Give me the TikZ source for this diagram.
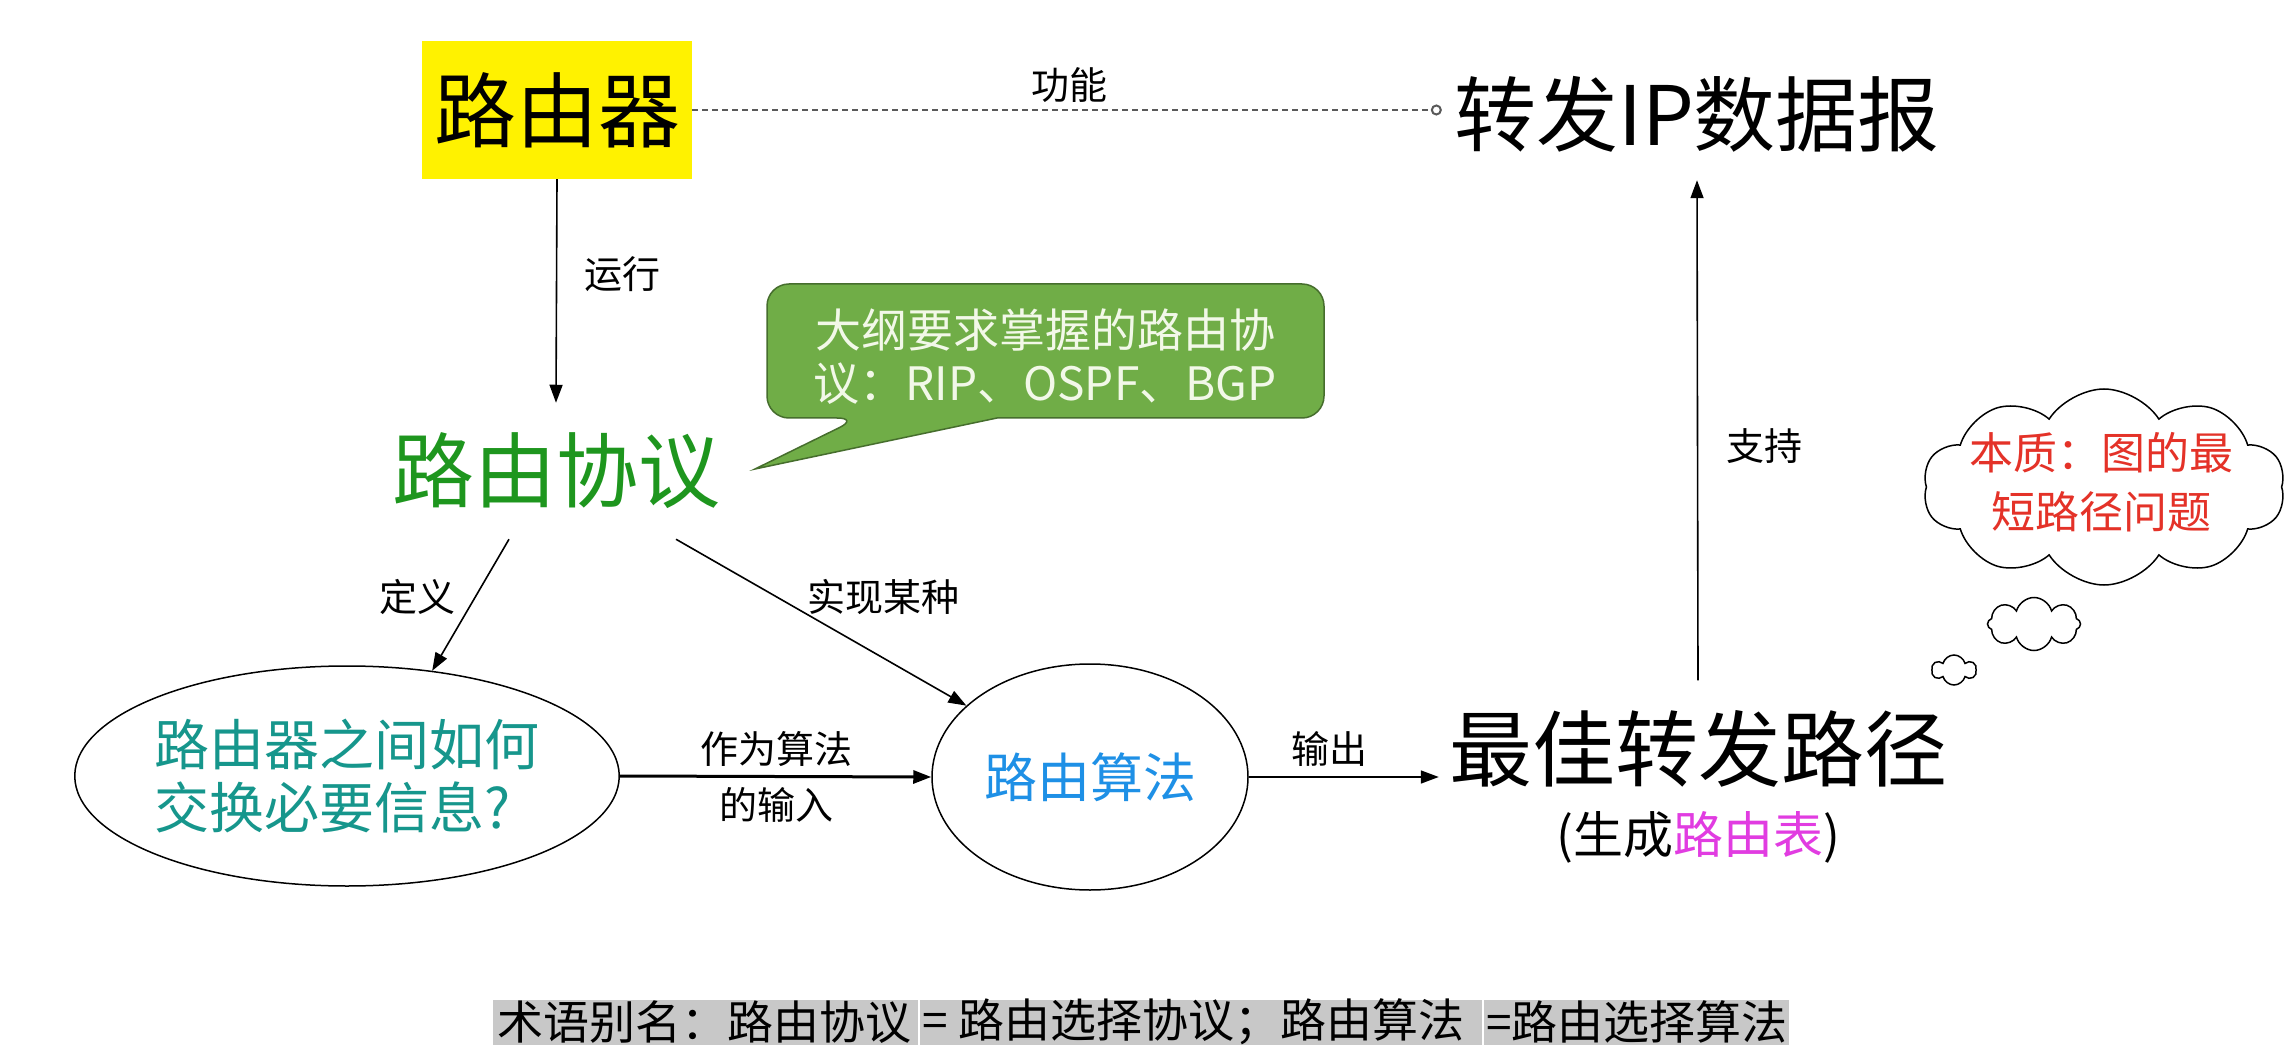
\documentclass[tikz,border=0pt]{standalone}
\usepackage{fontspec}
\setmainfont{Noto Sans CJK SC}
\usetikzlibrary{arrows.meta,shapes.geometric,shapes.symbols}
\definecolor{protogreen}{RGB}{30,150,30}
\definecolor{tealtext}{RGB}{22,150,140}
\definecolor{algoblue}{RGB}{30,144,230}
\definecolor{calfill}{RGB}{112,173,71}
\definecolor{caledge}{RGB}{70,110,45}
\definecolor{caltext}{RGB}{242,248,232}
\definecolor{cloudred}{RGB}{228,50,40}
\definecolor{magtext}{RGB}{225,60,225}
\definecolor{barfill}{RGB}{200,200,200}
\newcommand{\myfs}[1]{\fontsize{#1}{#1}\selectfont}
\begin{document}
\begin{tikzpicture}[x=1pt,y=-1pt,
  lab/.style={font=\myfs{38}, inner sep=0pt},
  conn/.style={line width=1.6pt, -{Triangle[length=18pt,width=13pt]}},
  bubble/.style={cloud, draw, line width=1.5pt, cloud ignores aspect},
  bartext/.style={font=\myfs{46}, inner sep=0pt, anchor=west},
]
\useasboundingbox (0,0) rectangle (2295,1064);
\fill[white] (0,0) rectangle (2295,1064);

% top row
\node[fill=yellow, minimum width=270pt, minimum height=138pt, font=\myfs{82}, inner sep=0pt] (router) at (557,110) {路由器};
\node[font=\myfs{82}, inner xsep=12pt, inner ysep=28pt] (fwd) at (1697,114) {转发IP数据报};
\draw[gray!70!black, line width=2pt, dash pattern=on 6pt off 4pt, -{Circle[open,length=11pt,width=11pt]}] (router.east) -- (router.east -| fwd.west);
\node[lab] (lfunc) at (1069,85) {功能};

% protocol
\node[font=\myfs{82}, text=protogreen, inner xsep=0pt, inner ysep=30pt] (proto) at (556,471) {路由协议};
\draw[conn] (router.south) -- (proto.north);
\node[lab] (lrun) at (622,274) {运行};

% callout
\draw[fill=calfill, draw=caledge, line width=1.5pt] (859,418) -- (755,469) -- (997,418) [rounded corners=22pt] -- (1324,418) -- (1324,284) -- (767,284) -- (767,418) -- cycle;
\node[font=\fontsize{46}{53}\selectfont, text=caltext, align=center, inner sep=0pt] (callout) at (1045,357) {大纲要求掌握的路由协\\议：RIP、OSPF、BGP};

% ellipses
\node[ellipse, draw, line width=1.5pt, minimum width=542pt, minimum height=220pt, font=\fontsize{55}{63}\selectfont, text=tealtext, align=left, inner sep=0pt] (info) at (347,776) {路由器之间如何\\交换必要信息?};
\node[ellipse, draw, line width=1.5pt, minimum width=316pt, minimum height=226pt, font=\myfs{53}, text=algoblue, inner sep=0pt] (algo) at (1090,777) {路由算法};

\draw[conn] ([xshift=-47pt]proto.south) -- (info.51);
\draw[conn] ([xshift=120pt]proto.south) -- (algo.150);
\node[lab] (ldef) at (417,597) {定义};
\node[lab] (limpl) at (883,597) {实现某种};

\draw[line width=3pt, -{Triangle[length=18pt,width=13pt]}] (info.east) -- (algo.west);
\node[lab] (lin1) at (776,749) {作为算法};
\node[lab] (lin2) at (776,805) {的输入};

% best path
\node[font=\myfs{83}, inner xsep=10pt, inner ysep=30pt] (best) at (1698,749) {最佳转发路径};
\node[font=\myfs{50}, inner sep=0pt] (table) at (1698,837) {(生成\textcolor{magtext}{路由表})};
\draw[conn] (algo.east) -- (algo.east -| best.west);
\node[lab] (lout) at (1329,749) {输出};
\draw[conn] (best.north) -- (fwd.south);
\node[lab] (lsup) at (1764,446) {支持};

% thought cloud
\node[bubble, cloud puffs=10, cloud puff arc=115, minimum width=362pt, minimum height=196pt] (cloudmain) at (2104,487) {};
\node[font=\fontsize{44}{59}\selectfont, text=cloudred, align=center, inner sep=0pt] (essence) at (2101,482) {本质：图的最\\短路径问题};
\node[bubble, cloud puffs=8, minimum width=93pt, minimum height=53pt] (puff1) at (2034,624) {};
\node[bubble, cloud puffs=6, minimum width=44pt, minimum height=30pt] (puff2) at (1954,670) {};

% bottom bar
\fill[barfill] (493,1000) rectangle (1789,1045);
\draw[white, line width=2pt] (919,1000) -- (919,1045);
\draw[white, line width=2pt] (1483,1000) -- (1483,1045);
\node[bartext] (terms1) at (497,1022) {术语别名：路由协议};
\node[bartext] (terms2) at (922,1022) {= 路由选择协议；路由算法};
\node[bartext] (terms3) at (1486,1022) {=路由选择算法};
\end{tikzpicture}
\end{document}
